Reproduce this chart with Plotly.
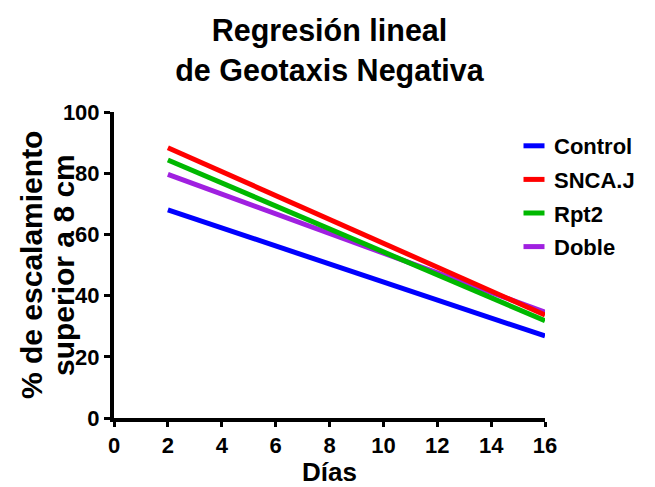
import plotly.graph_objects as go

dias = [2, 16]
control = [68.0, 26.8]
snca_j = [88.3, 33.7]
rpt2 = [84.3, 31.8]
doble = [79.6, 34.6]

names = ["Control", "SNCA.J", "Rpt2", "Doble"]
colors = {"Control": "#0000FF", "SNCA.J": "#FF0000", "Rpt2": "#00B800", "Doble": "#A020E0"}
series = {"Control": control, "SNCA.J": snca_j, "Rpt2": rpt2, "Doble": doble}

x_ticks = [0, 2, 4, 6, 8, 10, 12, 14, 16]
y_ticks = [0, 20, 40, 60, 80, 100]
y_title_lines = ["% de escalamiento", "superior a 8 cm"]

FONT = "Liberation Sans"

def f(size):
    return dict(size=size, family=FONT, color="black", weight="bold")

fig = go.Figure()
# drawing order
for n in ["Control", "Doble", "Rpt2", "SNCA.J"]:
    fig.add_trace(go.Scatter(x=dias, y=series[n], mode="lines", name=n,
                             line=dict(color=colors[n], width=5), showlegend=False))
# legend entries
for n in names:
    fig.add_trace(go.Scatter(x=[None], y=[None], mode="markers", name=n, legendgroup=n,
                             marker=dict(symbol="line-ew", size=15, color=colors[n],
                                         line=dict(color=colors[n], width=5))))

L, R, T, B = 114, 110, 112, 69
W, H = 655, 487
pw = W - L - R

fig.update_layout(
    width=W, height=H,
    margin=dict(l=L, r=R, t=T, b=B, autoexpand=False),
    paper_bgcolor="white", plot_bgcolor="white",
    font=dict(family=FONT, color="black"),
    title=dict(text="Regresión lineal<br>de Geotaxis Negativa",
               x=0.5, xref="paper", xanchor="center",
               y=1 - 41 / H, yref="container", yanchor="middle",
               font=f(30.5)),
    legend=dict(x=514 / W, xref="container", xanchor="left",
                y=1 - 125 / H, yref="container", yanchor="top",
                traceorder="grouped", tracegroupgap=2,
                font=f(22),
                bgcolor="rgba(0,0,0,0)", itemwidth=30),
    showlegend=True,
)
for txt, px in zip(y_title_lines, [31, 63]):
    fig.add_annotation(text=txt, textangle=-90, xref="paper", yref="paper",
                       x=(px - L) / pw, y=0.5, xanchor="center", yanchor="middle",
                       showarrow=False, font=f(30))

fig.update_xaxes(range=[0, 16], tickvals=x_ticks,
                 showgrid=False, zeroline=False, showline=True, linewidth=4, linecolor="black",
                 ticks="outside", ticklen=5, tickwidth=3, tickcolor="black",
                 tickfont=f(22), automargin=False,
                 title=dict(text="Días", font=f(26), standoff=2))
fig.update_yaxes(range=[0, 100], tickvals=y_ticks,
                 showgrid=False, zeroline=False, showline=True, linewidth=4, linecolor="black",
                 ticks="outside", ticklen=6, tickwidth=3, tickcolor="black",
                 tickfont=f(22), automargin=False)

fig.write_html("out.html")
